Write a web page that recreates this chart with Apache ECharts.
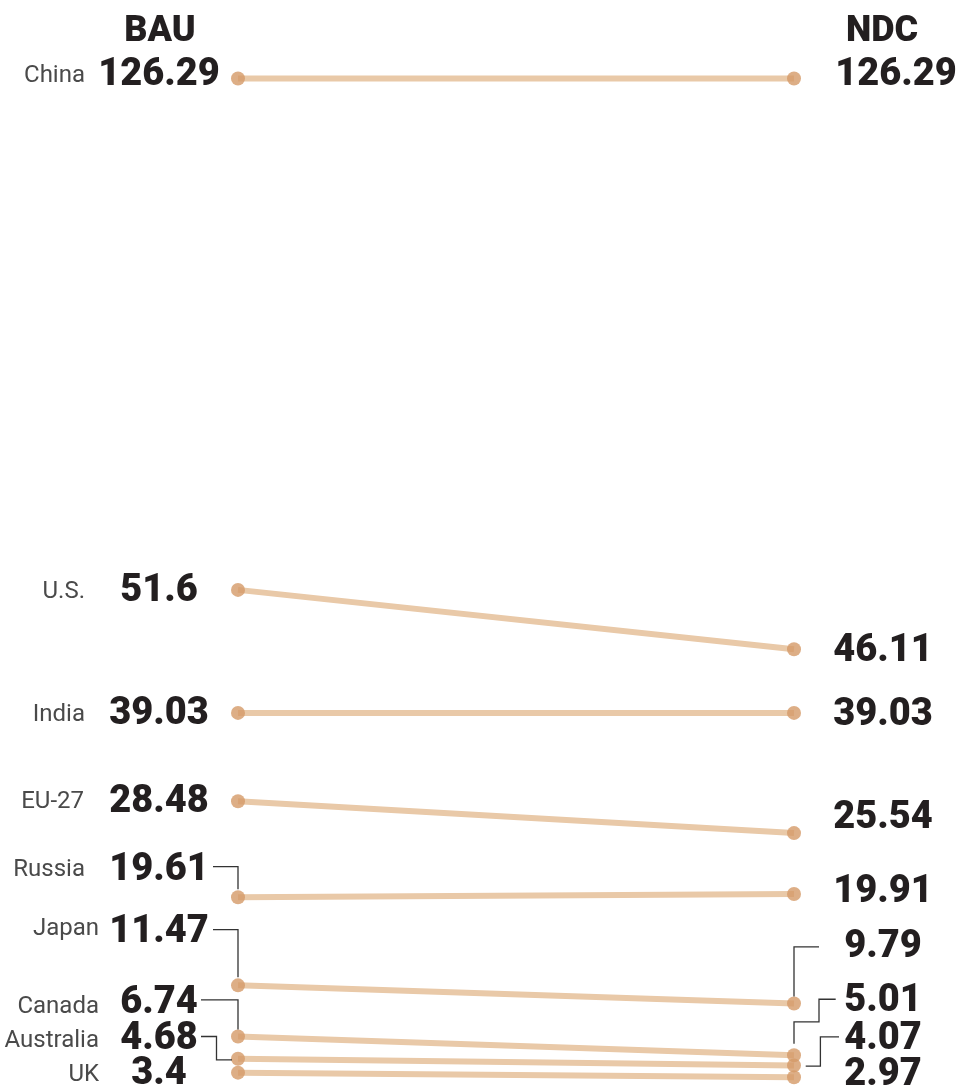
<!DOCTYPE html>
<html>
<head>
<meta charset="utf-8">
<script src="https://cdn.jsdelivr.net/npm/echarts@6/dist/echarts.min.js"></script>
<style>
  html, body { margin: 0; padding: 0; background: #fff; }
  #chart { width: 957px; height: 1085px; }
</style>
</head>
<body>
<div id="chart"></div>
<script>
// Emissions by country under two scenarios
const scenarios = ['BAU', 'NDC'];
const countries = ['China', 'U.S.', 'India', 'EU-27', 'Russia', 'Japan', 'Canada', 'Australia', 'UK'];
const bauValues = [126.29, 51.6, 39.03, 28.48, 19.61, 11.47, 6.74, 4.68, 3.4];
const ndcValues = [126.29, 46.11, 39.03, 25.54, 19.91, 9.79, 5.01, 4.07, 2.97];

// Label placement, in pixels relative to each dot
const nameDx = [-153, -153, -153, -154, -153, -139, -139, -139, -139];
const nameDy = [-2.3, 2, 2.5, 1, -27.3, -56.2, -30, -18, 2];
const leftLabelDx = -79;
const leftLabelDy = [-2.8, 1.5, 1.9, 1.4, -26.6, -53, -33.3, -19.2, 2.3];
const rightLabelDx = [102, 89, 89, 89, 89, 89, 89, 89, 89];
const rightLabelDy = [-2.8, 2.2, 2.6, -15.1, -1.1, -56, -53.5, -25.5, -2.3];

// Leader lines joining a moved label to its dot
const leftLeaders = {
  4: [[-25, -30.6], [0, -30.6], [0, -8]],
  5: [[-25, -55.7], [0, -55.7], [0, -8]],
  6: [[-37, -36.7], [0, -36.7], [0, -7]],
  7: [[-37, -22.3], [-21.5, -22.3], [-21.5, 1], [-6, 1]]
};
const rightLeaders = {
  5: [[25, -56.6], [0, -56.6], [0, -7]],
  6: [[41.7, -56], [25, -56], [25, -33.3], [0, -33.3], [0, -11.6]],
  7: [[45, -28.6], [26.4, -28.6], [26.4, 0.7], [11.7, 0.7]]
};

const LINE_COLOR = '#E9C9A8';
const DOT_COLOR = '#D49A68';
const VALUE_FONT = '900 38px Roboto, "Liberation Sans", sans-serif';
const NAME_FONT = '24px Roboto, "Liberation Sans", sans-serif';
const HEAD_FONT = '900 36px Roboto, "Liberation Sans", sans-serif';
const TEXT_DARK = '#231F20';
const TEXT_NAME = '#4A4A4A';

const chart = echarts.init(document.getElementById('chart'), null, { renderer: 'canvas' });

const lineSeries = countries.map((c, i) => ({
  name: c,
  type: 'line',
  data: [bauValues[i], ndcValues[i]],
  showSymbol: false,
  symbol: 'none',
  lineStyle: { color: LINE_COLOR, width: 6 },
  z: 2,
  silent: true,
  animation: false
}));

const dotData = [];
countries.forEach((c, i) => {
  dotData.push([0, bauValues[i]]);
  dotData.push([1, ndcValues[i]]);
});

function renderLabels(params, api) {
  const i = params.dataIndex;
  const pL = api.coord([0, bauValues[i]]);
  const pR = api.coord([1, ndcValues[i]]);
  const children = [];
  children.push({
    type: 'text',
    style: {
      text: countries[i], x: pL[0] + nameDx[i], y: pL[1] + nameDy[i],
      font: NAME_FONT, fill: TEXT_NAME, textAlign: 'right', textVerticalAlign: 'middle'
    }
  });
  children.push({
    type: 'text',
    style: {
      text: String(bauValues[i]), x: pL[0] + leftLabelDx, y: pL[1] + leftLabelDy[i],
      font: VALUE_FONT, fill: TEXT_DARK, textAlign: 'center', textVerticalAlign: 'middle'
    }
  });
  children.push({
    type: 'text',
    style: {
      text: String(ndcValues[i]), x: pR[0] + rightLabelDx[i], y: pR[1] + rightLabelDy[i],
      font: VALUE_FONT, fill: TEXT_DARK, textAlign: 'center', textVerticalAlign: 'middle'
    }
  });
  if (leftLeaders[i]) {
    children.push({
      type: 'polyline',
      shape: { points: leftLeaders[i].map(p => [pL[0] + p[0], pL[1] + p[1]]) },
      style: { stroke: '#333', lineWidth: 1.3, fill: null }
    });
  }
  if (rightLeaders[i]) {
    children.push({
      type: 'polyline',
      shape: { points: rightLeaders[i].map(p => [pR[0] + p[0], pR[1] + p[1]]) },
      style: { stroke: '#333', lineWidth: 1.3, fill: null }
    });
  }
  return { type: 'group', children };
}

chart.setOption({
  animation: false,
  backgroundColor: '#ffffff',
  grid: { left: 238, right: 163, top: 38.3, bottom: 0, containLabel: false },
  xAxis: {
    type: 'category',
    data: scenarios,
    boundaryGap: false,
    show: false
  },
  yAxis: {
    type: 'value',
    show: false,
    min: 2.26,
    max: 130,
    breaks: [
      { start: 30, end: 36, gap: 3.62 },
      { start: 41, end: 44, gap: 1.8 },
      { start: 55, end: 123, gap: 40.58 }
    ],
    breakArea: { show: false }
  },
  graphic: [
    { type: 'text', x: 160, y: 32, style: { text: scenarios[0], font: HEAD_FONT, fill: TEXT_DARK, textAlign: 'center', textVerticalAlign: 'middle' } },
    { type: 'text', x: 882, y: 32, style: { text: scenarios[1], font: HEAD_FONT, fill: TEXT_DARK, textAlign: 'center', textVerticalAlign: 'middle' } }
  ],
  series: [
    ...lineSeries,
    {
      type: 'scatter',
      data: dotData,
      symbol: 'circle',
      symbolSize: 14,
      itemStyle: { color: DOT_COLOR },
      z: 5,
      silent: true
    },
    {
      type: 'custom',
      data: countries.map((c, i) => [0, bauValues[i], ndcValues[i]]),
      encode: { x: 0, y: 1 },
      renderItem: renderLabels,
      z: 6,
      silent: true
    }
  ]
});
</script>
</body>
</html>
